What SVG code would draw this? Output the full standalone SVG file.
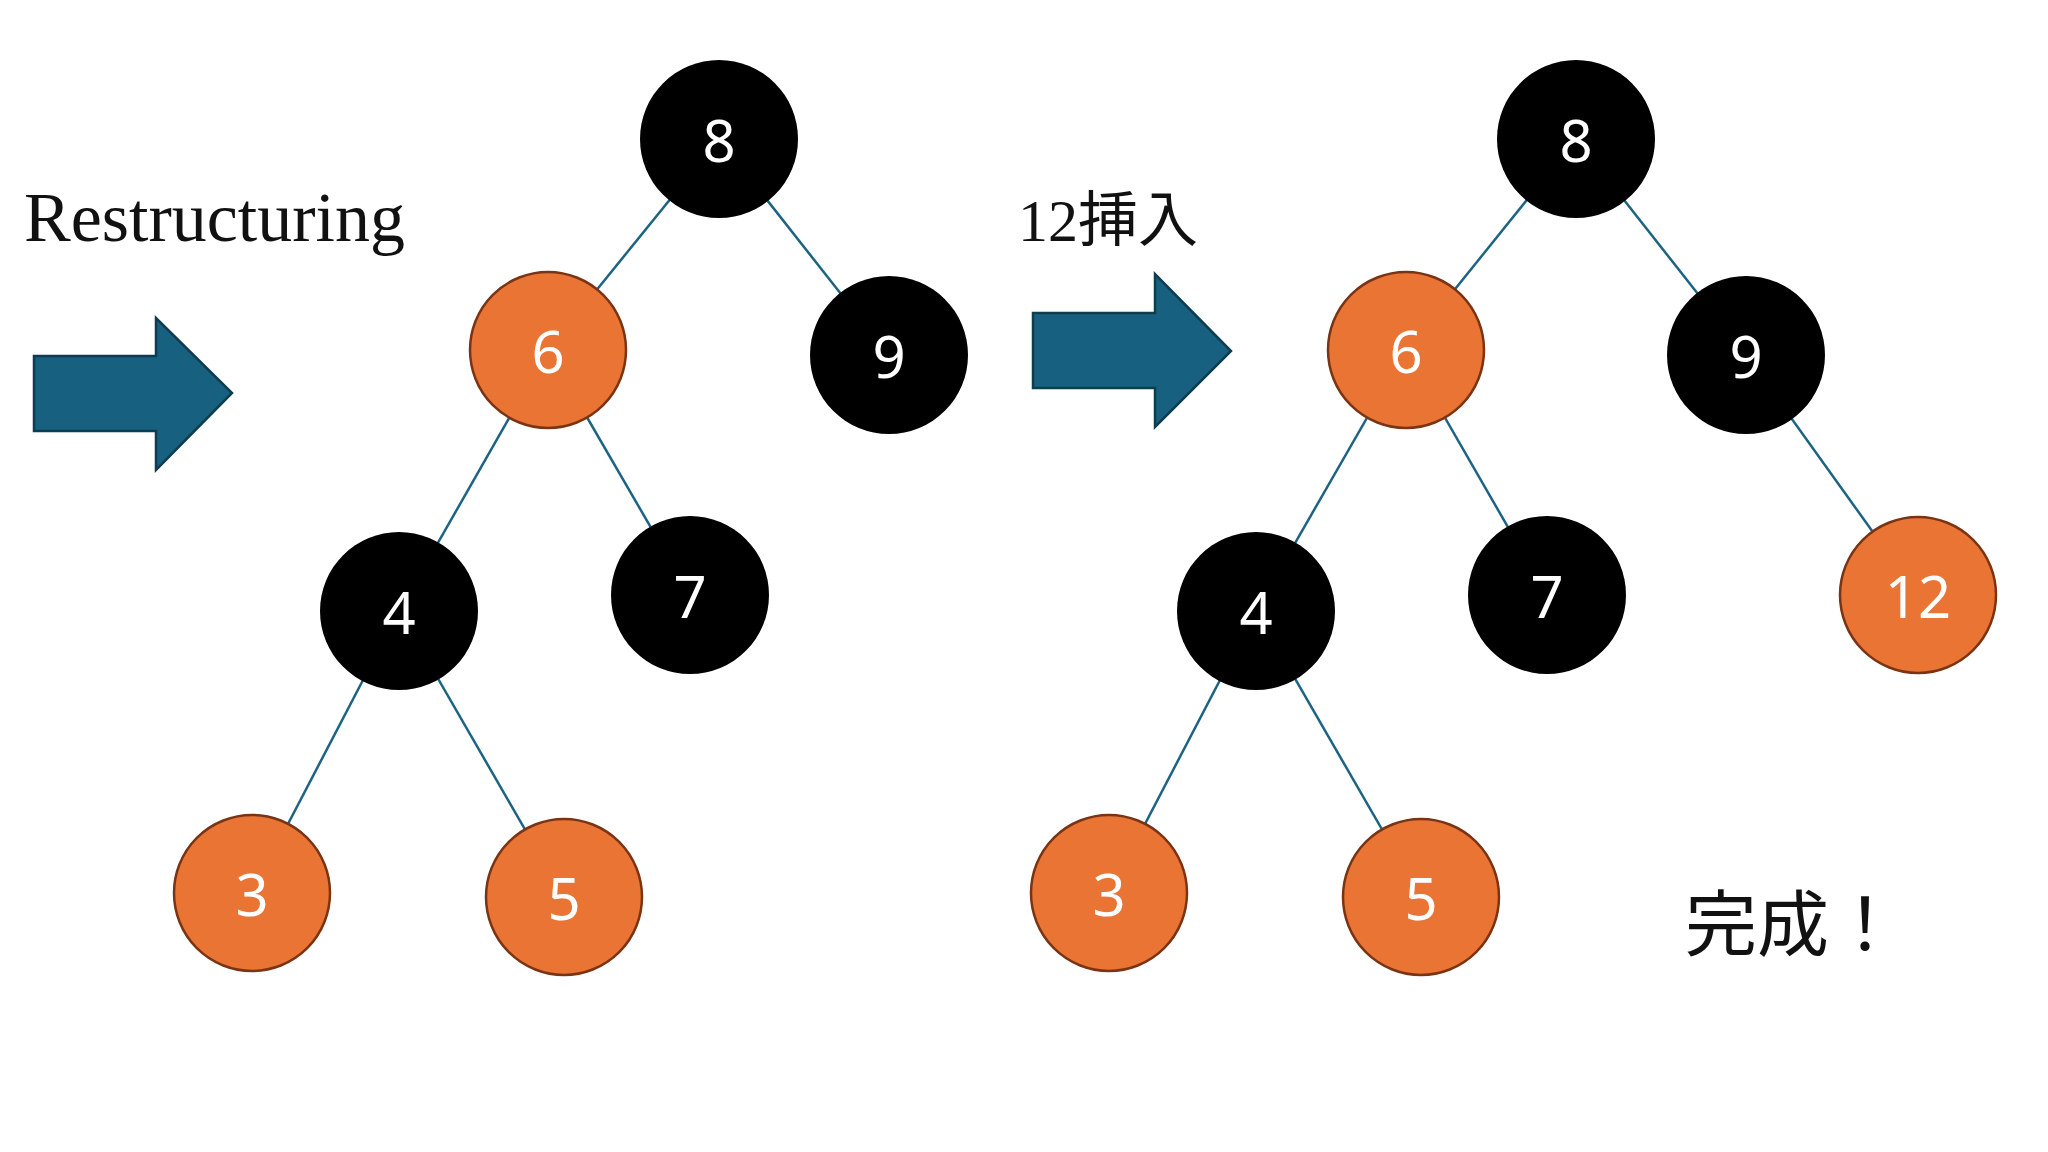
<svg xmlns="http://www.w3.org/2000/svg" width="2048" height="1152" viewBox="0 0 2048 1152">
<style>
.e{stroke:#1d6383;stroke-width:2.5}
.b{fill:#000}
.o{fill:#e97434;stroke:#7a3414;stroke-width:2.5}
.t{fill:#fff;font-family:"Noto Sans","Open Sans",sans-serif;font-size:58px;text-anchor:middle;dominant-baseline:central}
.a{fill:#17607f;stroke:#0e3c50;stroke-width:2.5}
</style>
<rect width="2048" height="1152" fill="#fff"/>
<g id="connectors">
<line class="e" x1="719" y1="139" x2="548" y2="350"/><line class="e" x1="719" y1="139" x2="889" y2="355"/>
<line class="e" x1="548" y1="350" x2="399" y2="611"/><line class="e" x1="548" y1="350" x2="690" y2="595"/>
<line class="e" x1="399" y1="611" x2="252" y2="893"/><line class="e" x1="399" y1="611" x2="564" y2="897"/>
<line class="e" x1="1576" y1="139" x2="1406" y2="350"/><line class="e" x1="1576" y1="139" x2="1746" y2="355"/>
<line class="e" x1="1406" y1="350" x2="1256" y2="611"/><line class="e" x1="1406" y1="350" x2="1547" y2="595"/>
<line class="e" x1="1256" y1="611" x2="1109" y2="893"/><line class="e" x1="1256" y1="611" x2="1421" y2="897"/>
<line class="e" x1="1746" y1="355" x2="1918" y2="595"/>
</g>
<g id="arrow1"><polygon class="a" points="34,356 156,356 156,318 232,393 156,470 156,431 34,431"/></g>
<g id="arrow2"><polygon class="a" points="1033,313 1155,313 1155,274 1231,351 1155,427 1155,388 1033,388"/></g>
<text x="24" y="241" font-family="Liberation Serif,serif" font-size="70" fill="#111">Restructuring</text>
<text x="1018" y="241" font-family="Liberation Serif,'Noto Sans CJK JP',serif" font-size="60" fill="#111">12挿入</text>
<text x="1685" y="950" font-family="'Noto Sans CJK JP',serif" font-size="72" fill="#111">完成！</text>
<g id="L8"><circle class="b" cx="719" cy="139" r="79"/><text class="t" x="719" y="139">8</text></g>
<g id="L6"><circle class="o" cx="548" cy="350" r="78"/><text class="t" x="548" y="350">6</text></g>
<g id="L9"><circle class="b" cx="889" cy="355" r="79"/><text class="t" x="889" y="355">9</text></g>
<g id="L4"><circle class="b" cx="399" cy="611" r="79"/><text class="t" x="399" y="611">4</text></g>
<g id="L7"><circle class="b" cx="690" cy="595" r="79"/><text class="t" x="690" y="595">7</text></g>
<g id="L3"><circle class="o" cx="252" cy="893" r="78"/><text class="t" x="252" y="893">3</text></g>
<g id="L5"><circle class="o" cx="564" cy="897" r="78"/><text class="t" x="564" y="897">5</text></g>
<g id="R8"><circle class="b" cx="1576" cy="139" r="79"/><text class="t" x="1576" y="139">8</text></g>
<g id="R6"><circle class="o" cx="1406" cy="350" r="78"/><text class="t" x="1406" y="350">6</text></g>
<g id="R9"><circle class="b" cx="1746" cy="355" r="79"/><text class="t" x="1746" y="355">9</text></g>
<g id="R4"><circle class="b" cx="1256" cy="611" r="79"/><text class="t" x="1256" y="611">4</text></g>
<g id="R7"><circle class="b" cx="1547" cy="595" r="79"/><text class="t" x="1547" y="595">7</text></g>
<g id="R3"><circle class="o" cx="1109" cy="893" r="78"/><text class="t" x="1109" y="893">3</text></g>
<g id="R5"><circle class="o" cx="1421" cy="897" r="78"/><text class="t" x="1421" y="897">5</text></g>
<g id="R12"><circle class="o" cx="1918" cy="595" r="78"/><text class="t" x="1918" y="595">12</text></g>
</svg>
